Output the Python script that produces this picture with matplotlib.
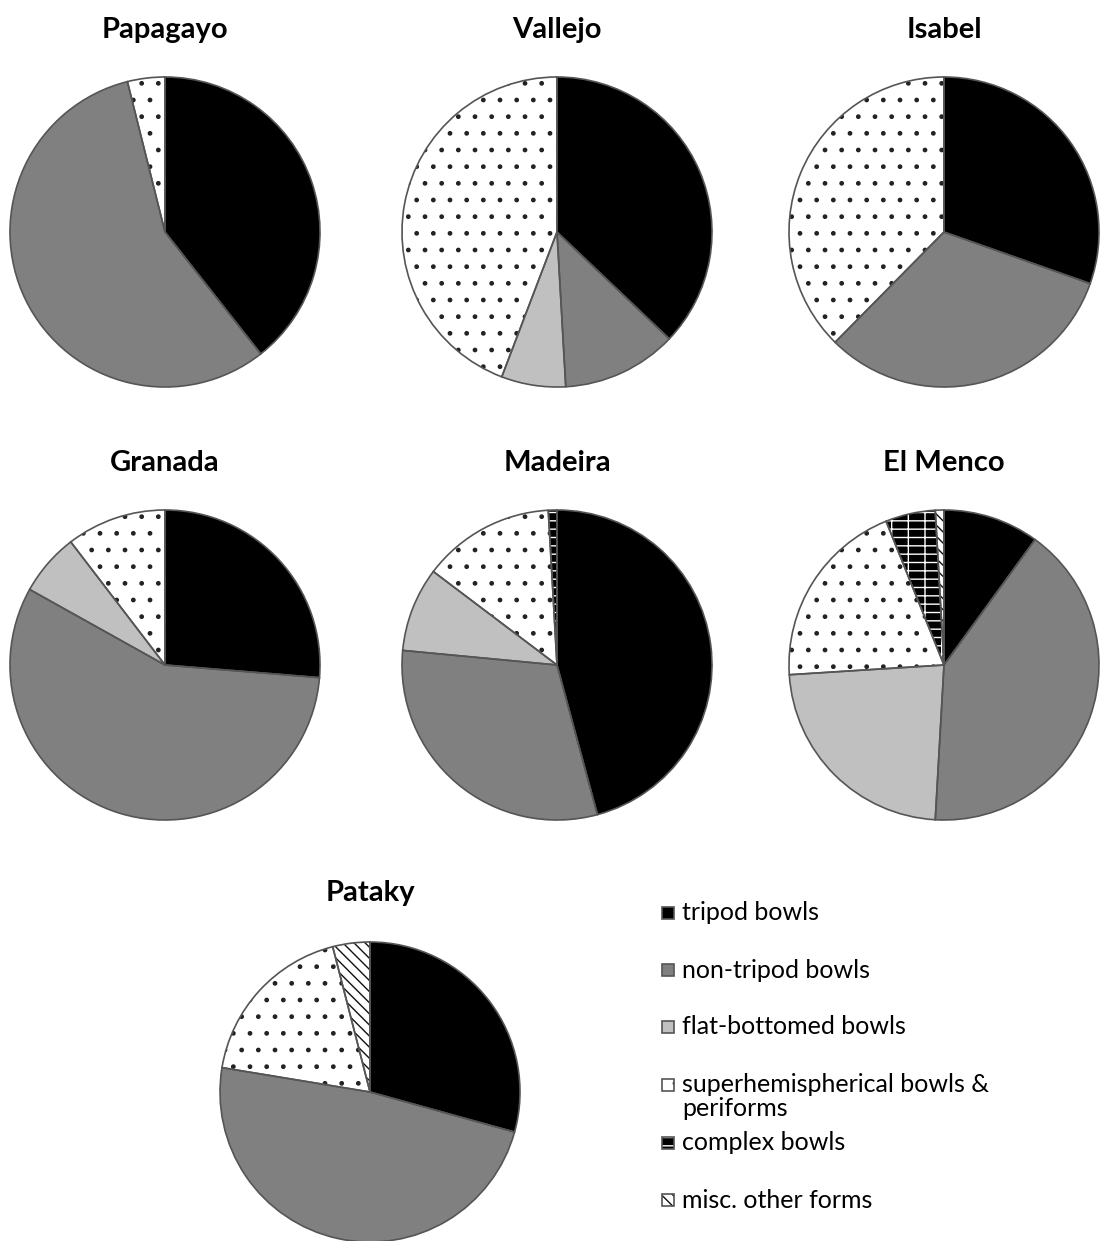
import matplotlib
matplotlib.use("Agg")
import matplotlib.pyplot as plt
from matplotlib.patches import Rectangle

plt.rcParams['font.family'] = ['Lato', 'DejaVu Sans']
plt.rcParams['hatch.linewidth'] = 1.0

# vessel form shares (%) per site, read clockwise from 12 o'clock
sites = ['Papagayo', 'Vallejo', 'Isabel', 'Granada', 'Madeira', 'El Menco', 'Pataky']
tripod = [39.4, 37.1, 30.4, 26.3, 45.8, 10.0, 29.3]
non_tripod = [56.7, 12.0, 32.0, 56.8, 30.7, 40.9, 48.3]
flat_bottomed = [0, 6.7, 0, 6.5, 8.8, 23.1, 0]
superhemispherical = [3.9, 44.2, 37.6, 10.4, 13.8, 19.9, 18.4]
complex_bowls = [0, 0, 0, 0, 0.9, 5.2, 0]
misc_forms = [0, 0, 0, 0, 0, 0.9, 4.0]

categories = ['tripod bowls', 'non-tripod bowls', 'flat-bottomed bowls',
              'superhemispherical bowls &\nperiforms', 'complex bowls',
              'misc. other forms']
series = [tripod, non_tripod, flat_bottomed, superhemispherical, complex_bowls, misc_forms]

faces = ['#000000', '#808080', '#c0c0c0', '#ffffff', '#000000', '#ffffff']
hatches = [None, None, None, '.', '--|', '\\\\\\']
hatch_cols = [None, None, None, '#222222', '#ffffff', '#111111']
edge = '#555555'

W, H = 1105, 1241
fig = plt.figure(figsize=(W / 100, H / 100), dpi=100)

# pie centres / radii in pixels, title rows
layout = [(165, 232, 155, 30), (557, 232, 155, 30), (944, 232, 155, 30),
          (165, 665, 155, 463), (557, 665, 155, 463), (944, 665, 155, 463),
          (370, 1092, 150, 893)]


def style_wedge(w, i):
    w.set_facecolor(faces[i])
    if hatches[i]:
        w.set_hatch(hatches[i])
        w.set_edgecolor(hatch_cols[i])
    w.set_linewidth(0)


for k, site in enumerate(sites):
    cx, cy, r, ty = layout[k]
    ax = fig.add_axes([(cx - r) / W, 1 - (cy + r) / H, 2 * r / W, 2 * r / H])
    idx = [i for i in range(len(series)) if series[i][k] > 0]
    vals = [series[i][k] for i in idx]
    wedges, _ = ax.pie(vals, startangle=90, counterclock=False, radius=1)
    for w, i in zip(wedges, idx):
        style_wedge(w, i)
    # outlines on top so hatching doesn't cover them
    ax.pie(vals, startangle=90, counterclock=False, radius=1,
           wedgeprops=dict(fill=False, edgecolor=edge, linewidth=1.2))
    ax.set_xlim(-1, 1)
    ax.set_ylim(-1, 1)
    ax.axis('off')
    fig.text(cx / W, 1 - ty / H, site, ha='center', va='center',
             fontsize=21, fontweight='bold')

# legend drawn in pixel coordinates
lax = fig.add_axes([0, 0, 1, 1])
lax.set_xlim(0, W)
lax.set_ylim(H, 0)
lax.axis('off')
legend_y = [913, 970, 1027, 1085, 1143, 1200]
for i, (lab, y) in enumerate(zip(categories, legend_y)):
    sq = Rectangle((662, y - 6), 12, 12, linewidth=0)
    style_wedge(sq, i)
    lax.add_patch(sq)
    lax.add_patch(Rectangle((662, y - 6), 12, 12, fill=False, edgecolor=edge, linewidth=1.2))
    for j, line in enumerate(lab.split('\n')):
        lax.text(682, y + j * 23, line, ha='left', va='center', fontsize=18)

fig.savefig('out.png', dpi=100)
